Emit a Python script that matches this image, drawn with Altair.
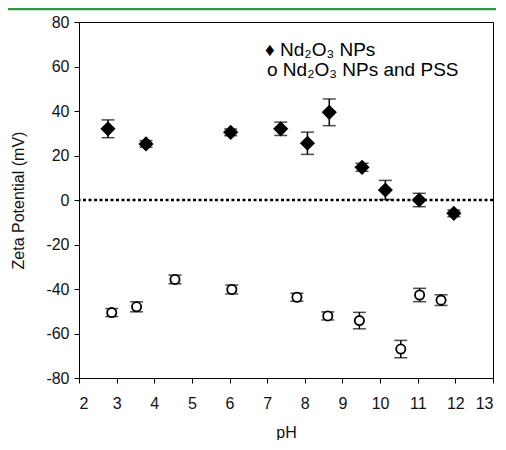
import altair as alt
import pandas as pd

# Nd2O3 NPs (filled diamonds)
ph_np = [2.77, 3.78, 6.03, 7.36, 8.07, 8.65, 9.52, 10.14, 11.04, 11.96]
zeta_np = [32.0, 25.2, 30.4, 32.0, 25.5, 39.4, 14.7, 4.5, 0.0, -6.0]
err_np = [4.0, 1.5, 1.5, 3.0, 5.0, 6.0, 1.8, 4.3, 3.0, 1.5]

# Nd2O3 NPs and PSS (open circles)
ph_pss = [2.87, 3.53, 4.55, 6.06, 7.79, 8.61, 9.45, 10.55, 11.05, 11.62]
zeta_pss = [-50.6, -48.0, -35.7, -40.2, -43.7, -52.1, -54.2, -67.0, -42.7, -45.0]
err_pss = [1.8, 2.25, 1.95, 2.0, 1.8, 1.8, 3.7, 3.9, 3.0, 2.4]

x_ticks = list(range(2, 14))
y_ticks = list(range(-80, 81, 20))
legend_lines = ["\u2666 Nd\u2082O\u2083 NPs", "o Nd\u2082O\u2083 NPs and PSS"]

FONT = "Liberation Sans"

df_np = pd.DataFrame({"ph": ph_np, "zeta": zeta_np})
df_np["lo"] = [v - e for v, e in zip(zeta_np, err_np)]
df_np["hi"] = [v + e for v, e in zip(zeta_np, err_np)]
df_pss = pd.DataFrame({"ph": ph_pss, "zeta": zeta_pss})
df_pss["lo"] = [v - e for v, e in zip(zeta_pss, err_pss)]
df_pss["hi"] = [v + e for v, e in zip(zeta_pss, err_pss)]

xscale = alt.Scale(domain=[2, 13], nice=False, zero=False)
yscale = alt.Scale(domain=[-80, 80], nice=False, zero=False)
xaxis = alt.Axis(values=x_ticks, title="pH", grid=False, tickSize=5,
                 labelPadding=12, labelOverlap=False, titleY=54,
                 titleBaseline="middle")
yaxis = alt.Axis(values=y_ticks, title="Zeta Potential (mV)", grid=False,
                 tickSize=5, labelPadding=5, labelOverlap=False, titleX=-61,
                 titleY=178, titleBaseline="middle",
                 labelExpr="datum.value + ''")

def X():
    return alt.X("ph:Q", scale=xscale, axis=xaxis)

def Y(field):
    return alt.Y(field + ":Q", scale=yscale, axis=yaxis)

zero = alt.Chart(pd.DataFrame({"z": [0]})).mark_rule(
    color="black", strokeDash=[3, 2.5], strokeWidth=2.5
).encode(y=Y("z"))

def errbars(df):
    base = alt.Chart(df)
    rule = base.mark_rule(color="black", strokeWidth=1.5).encode(
        x=X(), y=Y("lo"), y2="hi:Q")
    lo = base.mark_tick(color="black", size=13, thickness=1.5, orient="horizontal").encode(
        x=X(), y=Y("lo"))
    hi = base.mark_tick(color="black", size=13, thickness=1.5, orient="horizontal").encode(
        x=X(), y=Y("hi"))
    return rule + lo + hi

diamonds = alt.Chart(df_np).mark_point(
    shape="diamond", filled=True, color="black", size=230, opacity=1
).encode(x=X(), y=Y("zeta"))

circles = alt.Chart(df_pss).mark_point(
    shape="circle", filled=True, fill="white", stroke="black", strokeWidth=1.8,
    size=85, opacity=1
).encode(x=X(), y=Y("zeta"))

leg1 = alt.Chart(pd.DataFrame({"t": [legend_lines[0]]})).mark_text(
    align="left", baseline="alphabetic", fontSize=19, font=FONT, color="black"
).encode(text="t:N", x=alt.value(186), y=alt.value(34))
leg2 = alt.Chart(pd.DataFrame({"t": [legend_lines[1]]})).mark_text(
    align="left", baseline="alphabetic", fontSize=19, font=FONT, color="black"
).encode(text="t:N", x=alt.value(188), y=alt.value(54))

green = alt.Chart(pd.DataFrame({"a": [0]})).mark_rule(
    color="#2e9a3e", strokeWidth=2.5
).encode(x=alt.value(-71), x2=alt.value(417), y=alt.value(-13))

chart = alt.layer(
    diamonds, zero, errbars(df_np), errbars(df_pss), circles, leg1, leg2, green
).properties(
    width=414, height=356,
    background="white",
    autosize=alt.AutoSizeParams(type="none"),
    padding={"left": 71, "top": 14, "right": 3, "bottom": 62},
).configure_view(
    stroke="black", strokeWidth=1
).configure_axis(
    domainColor="black", tickColor="black", labelColor="#111", titleColor="#111",
    labelFont=FONT, titleFont=FONT, labelFontSize=16, titleFontSize=16,
    titleFontWeight="normal", domainWidth=1, tickWidth=1,
)

chart.save("out.html", embed_options={"renderer": "svg", "actions": False})
